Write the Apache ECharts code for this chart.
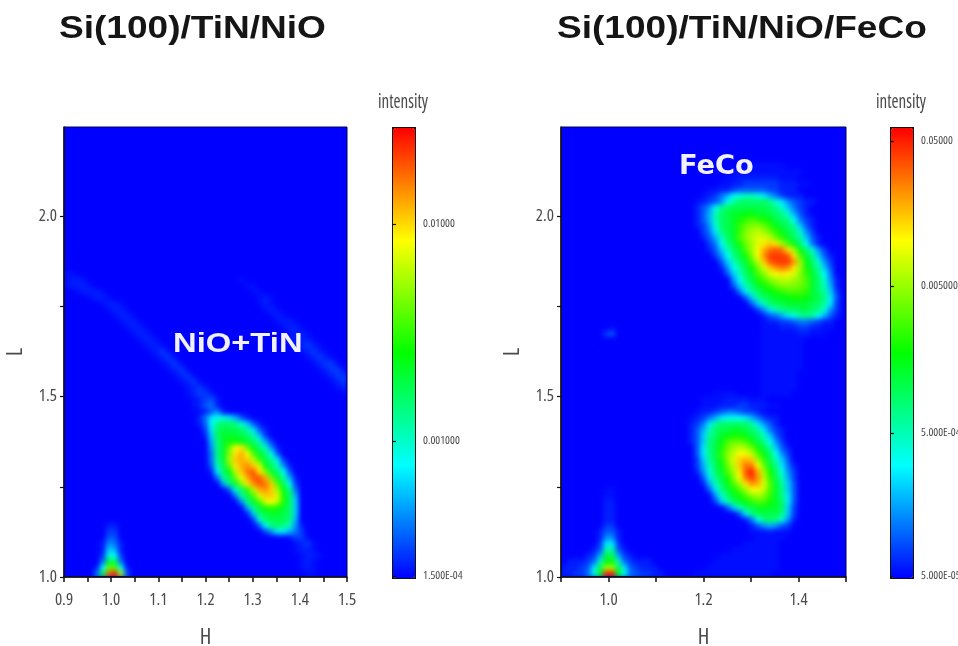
<!DOCTYPE html>
<html><head><meta charset="utf-8">
<style>
html,body{margin:0;padding:0;background:#fff;overflow:hidden}
#c{width:958px;height:646px}
canvas[data-zr-dom-id="zr_1"]{filter:blur(2.4px);clip-path:path("M65 128H346V576H65Z M562 128H845V576H562Z")}
</style>
<script src="https://cdn.jsdelivr.net/npm/echarts@6/dist/echarts.min.js"></script>
</head><body><div id="c"></div>
<script>
// Colour level of each cell: one char per cell, . (barely lit), 0 (blue) ... z (deep red).
// Rows run from the top of the plot down; "col:levels" segments, blue everywhere else.
const levelChars = '0123456789abcdefghijklmnopqrstuvwxyz';
const blankRows = n => Array(n).fill('');
const nioTinRows = [
 ...blankRows(24),
 '0:..','0:.11.|29:.','0:.111.|30:..','2:.111.|31:..','4:.11.|32:.1.','6:.11.|32:.1.','7:.11.|33:.1.','8:.11.|34:.1.',
 '9:.11.|35:.11.','10:.11.|36:.11.','11:.11.|37:.11.','12:.11.|37:.111.','13:.11.|38:.121.','14:.12.|39:.121.',
 '15:.12.|40:.121.','16:.12.|41:.122.','17:.12.|42:.122.','18:.12.|43:.122','19:.12.|44:.12','20:.121|45:.1',
 '20:.1221','21:.1231','21:.1341','22:.1351',
 '22:1489a8631',
 '22:139deeda731',
 '23:28efffec831',
 '23:17egggfec72',
 '24:6dgiihgeb62',
 '24:5dglqrlheb51',
 '24:4dgmrtqkge93',
 '24:4cgnstsojfd82',
 '24:3bflrtuspheb51',
 '24:18ehosvwrmge93',
 '25:4cflqtwwtlgc61',
 '26:6dgmruwvskf92',
 '27:3aejotusnhd4',
 '28:4cfkpsspie6',
 '29:5dgkpqoie7',
 '30:6dgijige7',
 '30:17efggfe7',
 '31:2aefffd6',
 '7:11|32:39dedb51',
 '7:22|33:2588642',
 '7:33|37:.22.',
 '6:1541|38:.12.',
 '6:1761|38:.11.',
 '6:2a92|39:.11.',
 '6:4gf4|39:.1.',
 '5:19lk91|39:.1.',
 '5:4fwyn3|40:..'
];
const fecoRows = [
 ...blankRows(6),
 '30:.......',
 '28:............',
 '27:..1111111...',
 '26:..11222222111..',
 '24:..1123333322111',
 '23:.12469abba8642111',
 '22:.12359ceeeeeda853211',
 '22:1359deffffffeda7421',
 '22:136befgghhggfeda631',
 '22:136befgijkjihfed9421',
 '22:125aefgjlmmljhfec731',
 '23:248dfgjmnonljhfea52',
 '23:136begkmoppoljgec731',
 '24:249dfilnprsrnkhe941',
 '24:137begknqtvwvrnhea52',
 '25:259dfimquxxxwrkgd731',
 '26:37begkoswxxxunhea52',
 '26:159cfilpsuvurnifc73',
 '27:37begkmpqrqpmjgd94',
 '28:59dfikmnoonmkgea51',
 '28:37begijlmmmlkgeb61',
 '29:48ceghijkkkjgec72',
 '30:37cefghhiihgfd83',
 '31:37beffggggfec82',
 '32:258bdeeffeda52',
 '33:13468acdc9631',
 '33:.11223443211',
 '8:.|33:...1112211..',
 '7:23|33:......11...',
 '33:.......','33:.......','33:.......','33:.......','33:.......','33:.......','33:......','33:......','33:......',
 '25:....|33:.....',
 '23:....1111...',
 '23:...11122111..',
 '22:.1123443221.',
 '21:.12468999864211',
 '21:1248ceeeeec8531',
 '21:136beffggfec8421',
 '21:137ceghiihfeb731',
 '21:137dfhkllkifd952',
 '22:38dfilnonlifc731',
 '22:38dfjmoqqokhe952',
 '22:27cfimpstsnjfb73',
 '22:26behlosvvqlgd841',
 '22:15aegknrwytniea52',
 '23:38dfimqvxuojfb62',
 '23:16behknrutpkgc73',
 '7:..|24:38dfiknqqokgd73',
 '7:..|25:5aegikmnmjgd83',
 '7:11|25:27beghjkkige83',
 '7:11|27:37befghgge72',
 '7:11|29:38dffffd72',
 '7:11|30:149deda51',
 '7:22|31:1356532',
 '6:1331|31:...1...',
 '6:1551|32:.....',
 '6:2882|30:......',
 '5:13cc31|28:........',
 '4:126ff621|26:..........',
 '1:11124bhib42111|25:...........',
 '0:111238fnnf832111|24:............',
 '0:11224agyyga432211|22:.............'
];
// Colour-bar ticks: level on the bar and the printed label.
const nioBarLevels = [0.2, 30.2, 78.4];
const nioBarLabels = ['1.500E-04', '0.001000', '0.01000'];
const fecoBarLevels = [0.2, 32, 64.7, 96.9];
const fecoBarLabels = ['5.000E-05', '5.000E-04', '0.005000', '0.05000'];
const hTickValues = [0.9, 0.95, 1.0, 1.05, 1.1, 1.15, 1.2, 1.25, 1.3, 1.35, 1.4, 1.45, 1.5];
const nioHLabels = [0.9, 1.0, 1.1, 1.2, 1.3, 1.4, 1.5];
const fecoHTicks = [0.9, 1.0, 1.1, 1.2, 1.3, 1.4, 1.5];
const fecoHLabels = [1.0, 1.2, 1.4];
const lTickValues = [1.0, 1.25, 1.5, 1.75, 2.0];
const lLabelValues = [1.0, 1.5, 2.0];
const colourStops = ['#0000ff', '#00ffff', '#00ff00', '#ffff00', '#ff0000'];

const COLS = 47;
const levelValue = ch => ch === '.' ? 1.3 : levelChars.indexOf(ch) / 35 * 100;
function cells(rows) {
  const out = [];
  rows.forEach((row, r) => {
    const vals = new Array(COLS).fill(0);
    if (row) row.split('|').forEach(seg => {
      const [start, lv] = seg.split(':');
      [...lv].forEach((ch, i) => { vals[+start + i] = levelValue(ch); });
    });
    vals.forEach((v, c) => out.push([c, rows.length - 1 - r, v]));
  });
  return out;
}
const colCats = Array.from({length: COLS}, (_, i) => i);
const rowCats = Array.from({length: nioTinRows.length}, (_, i) => i);

const narrow = '"Open Sans"';
const grey = '#4a4a4a';
const tickFont = {fontFamily: narrow, fontStyle: 'condensed', color: grey};
const hAxis = (gridIndex, tickVals, labelVals) => ({
  type: 'value', gridIndex, position: 'bottom', min: 0.9, max: 1.5, zlevel: 2,
  name: 'H', nameLocation: 'middle', nameGap: 50,
  nameTextStyle: {...tickFont, fontSize: 22},
  axisLine: {onZero: false, lineStyle: {color: '#111', width: 1.5}},
  axisTick: {length: 5, customValues: tickVals, lineStyle: {color: '#111', width: 1.5}},
  axisLabel: {customValues: labelVals, margin: 15, ...tickFont, fontSize: 17, formatter: v => v.toFixed(1)},
  splitLine: {show: false}
});
const lAxis = gridIndex => ({
  type: 'value', gridIndex, position: 'left', min: 1.0, max: 2.247, zlevel: 2,
  name: 'L', nameLocation: 'middle', nameGap: 37,
  nameTextStyle: {...tickFont, fontSize: 22},
  axisLine: {onZero: false, lineStyle: {color: '#111', width: 1.5}},
  axisTick: {length: 4, customValues: lTickValues, lineStyle: {color: '#111', width: 1.2}},
  axisLabel: {customValues: lLabelValues, margin: 7, ...tickFont, fontSize: 17, formatter: v => v.toFixed(1)},
  splitLine: {show: false}
});
const hiddenCat = (gridIndex, data, position) => ({type: 'category', gridIndex, data, position, show: false, boundaryGap: true});
const barX = gridIndex => ({type: 'value', gridIndex, min: 0, max: 1, show: false});
const barY = (gridIndex, levels, labels) => ({
  type: 'value', gridIndex, position: 'right', min: 0, max: 100, zlevel: 2,
  axisLine: {show: false}, splitLine: {show: false},
  axisTick: {length: 4, customValues: levels, lineStyle: {color: '#111', width: 1.2}},
  axisLabel: {customValues: levels, margin: 8, ...tickFont, fontSize: 11.5,
    formatter: v => labels[levels.indexOf(v)]}
});
const frame = {show: true, backgroundColor: '#0000ff', borderColor: '#00005a', borderWidth: 1, outerBoundsMode: 'none'};
const bar = (left, idx) => ({
  type: 'continuous', seriesIndex: idx, min: 0, max: 100, left, top: 127, itemWidth: 22, itemHeight: 450,
  padding: 0, calculable: false, hoverLink: false, text: null, borderColor: '#111', borderWidth: 2,
  inRange: {color: colourStops}
});
const label = (text, x, y, font, fill, extra) => ({
  type: 'text', x, y, zlevel: 3, silent: true, ...extra,
  style: {text, font, fill, ...(extra && extra.styleExtra)}
});
const glow = {styleExtra: {shadowColor: 'rgba(255,255,255,0.55)', shadowBlur: 3}};

const chart = echarts.init(document.getElementById('c'), null, {renderer: 'canvas', width: 958, height: 646});
chart.setOption({
  animation: false,
  backgroundColor: '#ffffff',
  grid: [
    {left: 64, top: 127, width: 283, height: 450, ...frame},
    {left: 561, top: 127, width: 285, height: 450, ...frame},
    {left: 392, top: 127, width: 23, height: 450, outerBoundsMode: 'none'},
    {left: 890, top: 127, width: 23, height: 450, outerBoundsMode: 'none'}
  ],
  xAxis: [
    hAxis(0, hTickValues, nioHLabels),
    hiddenCat(0, colCats, 'top'),
    hAxis(1, fecoHTicks, fecoHLabels),
    hiddenCat(1, colCats, 'top'),
    barX(2), barX(3)
  ],
  yAxis: [
    lAxis(0), hiddenCat(0, rowCats, 'right'),
    lAxis(1), hiddenCat(1, rowCats, 'right'),
    barY(2, nioBarLevels, nioBarLabels), barY(3, fecoBarLevels, fecoBarLabels)
  ],
  visualMap: [bar(392, 0), bar(890, 1)],
  series: [
    {name: 'Si(100)/TiN/NiO', type: 'heatmap', xAxisIndex: 1, yAxisIndex: 1, data: cells(nioTinRows), zlevel: 1, progressive: 0, silent: true},
    {name: 'Si(100)/TiN/NiO/FeCo', type: 'heatmap', xAxisIndex: 3, yAxisIndex: 3, data: cells(fecoRows), zlevel: 1, progressive: 0, silent: true}
  ],
  graphic: {elements: [
    label('Si(100)/TiN/NiO', 59, 14, 'bold 31px "Liberation Sans"', '#151515', {scaleX: 1.195}),
    label('Si(100)/TiN/NiO/FeCo', 557, 14, 'bold 31px "Liberation Sans"', '#151515', {scaleX: 1.195}),
    label('NiO+TiN', 173, 330, 'bold 28px "Liberation Sans"', '#f0f0ff', {scaleX: 1.17, ...glow}),
    label('FeCo', 679, 154, 'bold 26px "DejaVu Sans"', '#f0f0ff', {scaleX: 1.05, ...glow}),
    label('intensity', 378, 92, 'condensed 20px "Open Sans"', grey, {scaleX: 0.85}),
    label('intensity', 876, 92, 'condensed 20px "Open Sans"', grey, {scaleX: 0.85})
  ]}
});
</script></body></html>
